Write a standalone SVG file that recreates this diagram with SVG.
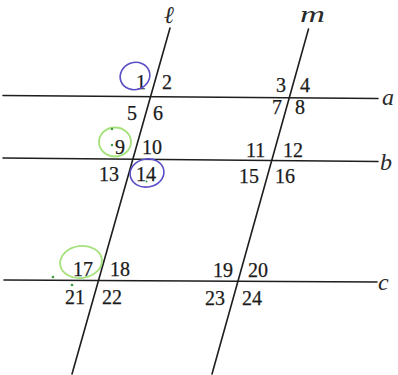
<svg xmlns="http://www.w3.org/2000/svg" width="398" height="375" viewBox="0 0 398 375">
<style>
.ln{stroke:#1e1e1e;stroke-width:1.6;fill:none;stroke-linecap:round}
.num{font-family:"Liberation Serif","DejaVu Serif",serif;font-size:20px;fill:#1a1a1a;stroke:#1a1a1a;stroke-width:0.25}
.nm{font-family:"Liberation Serif","DejaVu Serif",serif;font-style:italic;font-size:24px;fill:#2a2a2a}
.pur{stroke:#5a4ec8;stroke-width:1.6;fill:none}
.grn{stroke:#a6e27c;stroke-width:1.8;fill:none}
.dot{fill:#3c9a3c}
</style>
<rect width="398" height="375" fill="#ffffff"/>
<g id="connectors">
<line id="line-a" class="ln" x1="3" y1="95.5" x2="378" y2="98.5"/>
<line id="line-b" class="ln" x1="3" y1="158" x2="378" y2="161.5"/>
<line id="line-c" class="ln" x1="4" y1="280" x2="377" y2="282"/>
<line id="line-l" class="ln" x1="170" y1="28" x2="72" y2="374"/>
<line id="line-m" class="ln" x1="308.5" y1="29" x2="212" y2="374"/>
</g>
<g id="line-labels">
<text class="nm" x="164" y="23">ℓ</text>
<text class="nm" x="300" y="22" textLength="25" lengthAdjust="spacingAndGlyphs">m</text>
<text class="nm" x="382" y="105">a</text>
<text class="nm" x="380" y="170">b</text>
<text class="nm" x="378" y="290">c</text>
</g>
<g id="angles-a">
<text class="num" x="136" y="89">1</text>
<text class="num" x="162" y="89">2</text>
<text class="num" x="127" y="120">5</text>
<text class="num" x="153" y="120">6</text>
<text class="num" x="276" y="92">3</text>
<text class="num" x="300" y="92">4</text>
<text class="num" x="272" y="114">7</text>
<text class="num" x="295" y="114">8</text>
</g>
<g id="angles-b">
<text class="num" x="115" y="154">9</text>
<text class="num" x="142" y="154">10</text>
<text class="num" x="99" y="181">13</text>
<text class="num" x="136" y="181">14</text>
<text class="num" x="246" y="157">11</text>
<text class="num" x="283" y="157">12</text>
<text class="num" x="239" y="183">15</text>
<text class="num" x="275" y="183">16</text>
</g>
<g id="angles-c">
<text class="num" x="73" y="276">17</text>
<text class="num" x="110" y="276">18</text>
<text class="num" x="65" y="304">21</text>
<text class="num" x="102" y="304">22</text>
<text class="num" x="213" y="277">19</text>
<text class="num" x="248" y="277">20</text>
<text class="num" x="205" y="305">23</text>
<text class="num" x="242" y="305">24</text>
</g>
<g id="annotations">
<ellipse class="pur" cx="135" cy="76" rx="15" ry="13.5" transform="rotate(-20 135 76)"/>
<ellipse class="pur" cx="147" cy="173" rx="17" ry="14" transform="rotate(-10 147 173)"/>
<ellipse class="grn" cx="115" cy="142" rx="16" ry="14.5"/>
<ellipse class="grn" cx="81" cy="262" rx="21" ry="16" transform="rotate(-8 81 262)"/>
<circle class="dot" cx="112" cy="129" r="1.2"/>
<circle class="dot" cx="112" cy="145" r="1.2"/>
<circle class="dot" cx="146.5" cy="181.5" r="1"/>
<circle class="dot" cx="53" cy="277" r="1.3"/>
<circle class="dot" cx="72" cy="285" r="1.3"/>
</g>
</svg>
